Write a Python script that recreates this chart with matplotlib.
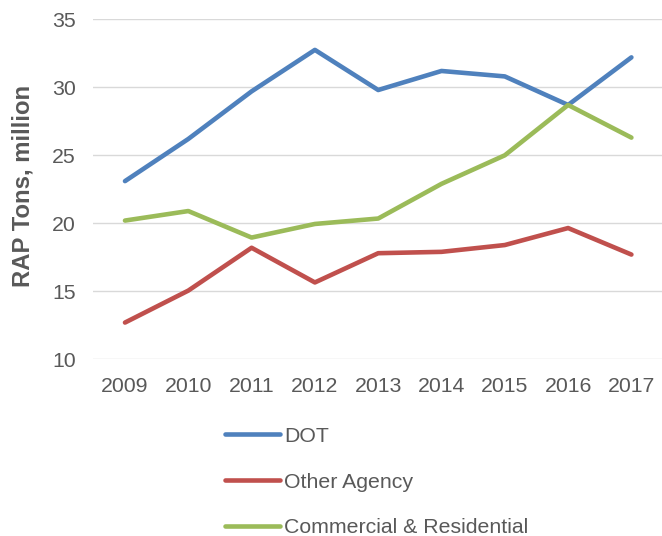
import matplotlib.pyplot as plt

plt.rcParams['font.family'] = ['Liberation Sans', 'DejaVu Sans']

years = ['2009', '2010', '2011', '2012', '2013', '2014', '2015', '2016', '2017']
dot = [23.1, 26.2, 29.7, 32.75, 29.8, 31.2, 30.8, 28.7, 32.2]
other_agency = [12.7, 15.05, 18.2, 15.65, 17.8, 17.9, 18.4, 19.65, 17.7]
commercial = [20.2, 20.9, 18.95, 19.95, 20.35, 22.9, 25.0, 28.7, 26.3]

series = [
    ('DOT', dot, '#4F81BD'),
    ('Other Agency', other_agency, '#C0504D'),
    ('Commercial & Residential', commercial, '#9BBB59'),
]

grey = '#595959'
fs = 15.3

fig = plt.figure(figsize=(6.62, 5.36), dpi=100)
ax = fig.add_axes([0.141, 0.3297, 0.8606, 0.6343])

x = range(len(years))
for name, vals, color in series:
    ax.plot(x, vals, color=color, lw=3.3, label=name,
            solid_capstyle='round', solid_joinstyle='round', zorder=3)

ax.set_xlim(-0.5, len(years) - 0.5)
ax.set_ylim(10, 35)
ax.set_yticks(range(10, 36, 5))
ax.set_xticks(list(x))
ax.set_xticklabels(years)
ax.grid(axis='y', color='#D9D9D9', lw=1.0, zorder=0)
ax.set_axisbelow(True)
for s in ax.spines.values():
    s.set_visible(False)
ax.tick_params(axis='both', length=0, labelsize=fs, labelcolor=grey)
ax.tick_params(axis='x', pad=13)
ax.tick_params(axis='y', pad=12.5)

ax.set_ylabel('RAP Tons, million', fontsize=17.2, fontweight='bold', color=grey)
ax.yaxis.set_label_coords(-0.124, 0.51)
ax.yaxis.label.set_ha('center')
ax.yaxis.label.set_va('center')

ax.legend(loc='upper left', bbox_to_anchor=(0.340, 0.2035),
          bbox_transform=fig.transFigure, frameon=False, fontsize=fs,
          labelcolor=grey, handlelength=2.6, handletextpad=0.19,
          labelspacing=1.26, borderpad=0, borderaxespad=0)

fig.savefig('out.png', dpi=100)
